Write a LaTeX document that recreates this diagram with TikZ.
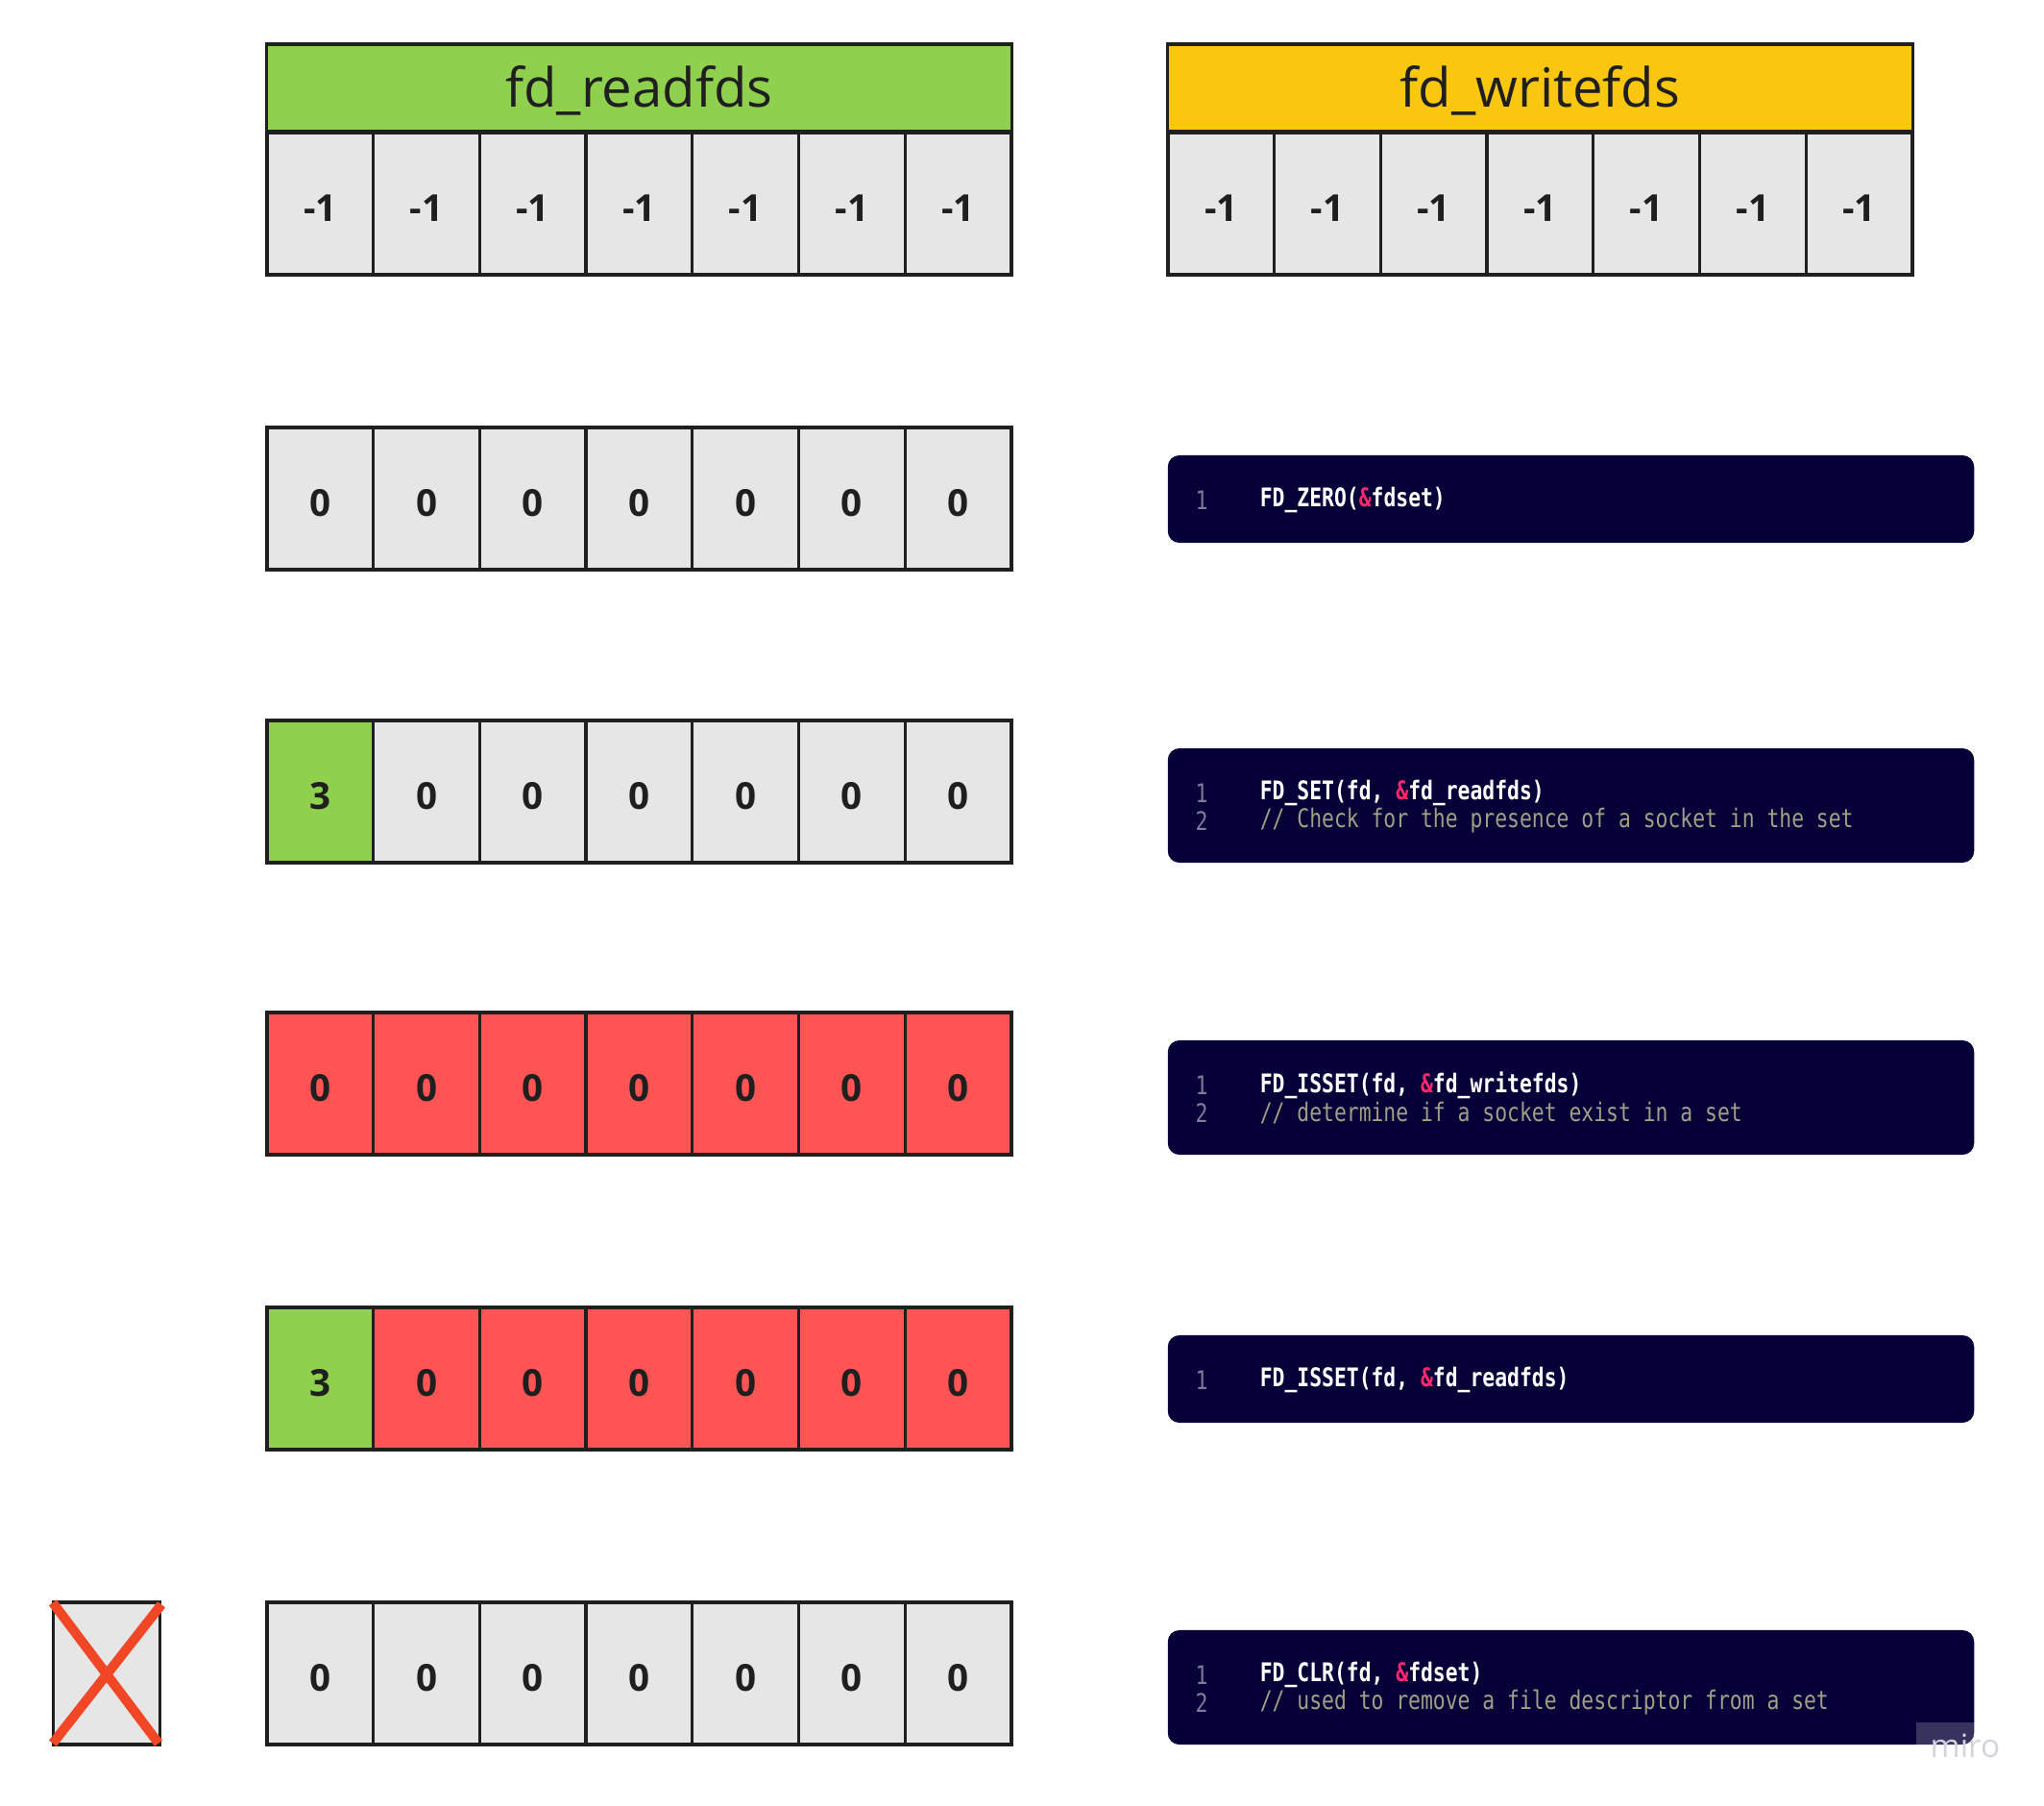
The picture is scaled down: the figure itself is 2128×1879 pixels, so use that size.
\documentclass[tikz,border=0pt]{standalone}
\usepackage{fontspec}
\setmainfont{Open Sans}
\newfontfamily\codefont[FakeStretch=0.8]{DejaVu Sans Mono}
\usepackage{tikz}
\usetikzlibrary{positioning}
\usetikzlibrary{calc}

\definecolor{cellgray}{HTML}{E6E6E6}
\definecolor{cellline}{HTML}{1F1F1F}
\definecolor{setgreen}{HTML}{8FD14F}
\definecolor{setyellow}{HTML}{FAC710}
\definecolor{setred}{HTML}{FF5454}
\definecolor{codebg}{HTML}{050038}
\definecolor{codepink}{HTML}{FF2A6D}
\definecolor{codecomment}{HTML}{A39E86}
\definecolor{codenum}{HTML}{7E7C99}
\definecolor{crossred}{HTML}{F24726}
\definecolor{miromark}{HTML}{D3D3DE}

\newcommand{\pamp}{\textcolor{codepink}{\&}}

\begin{document}
\begin{tikzpicture}[x=0.01cm, y=-0.01cm,
  cell/.style={draw=cellline, line width=0.95pt, fill=cellgray, minimum width=1.107cm,
    minimum height=1.48cm, inner sep=0pt, text height=10.6pt, text depth=0pt,
    text=cellline, font=\fontsize{11}{13}\selectfont\bfseries},
  head/.style={draw=cellline, line width=0.95pt, minimum width=7.75cm, minimum height=0.91cm,
    inner sep=0pt, text height=14.6pt, text depth=3.5pt, text=cellline, font=\fontsize{16}{19}\selectfont},
  codebox/.style={fill=codebg, rounded corners=0.12cm, minimum width=8.39cm, inner sep=0pt},
  lineno/.style={text=codenum, inner sep=0pt, font=\codefont\fontsize{7.6}{9}\selectfont},
  codeline/.style={anchor=west, text=white, inner sep=0pt, font=\codefont\fontsize{7.6}{9}\selectfont\bfseries},
  comment/.style={anchor=west, text=codecomment, inner sep=0pt, font=\codefont\fontsize{7.6}{9}\selectfont}]

  \useasboundingbox (0,0) rectangle (2128,1879);

  % the two sets
  \node[head, fill=setgreen] (readhead) at (665.5,91.5) {fd\_readfds};
  \node[head, fill=setyellow] (writehead) at (1603.5,91.5) {fd\_writefds};
  \foreach \i in {1,...,7} {
    \node[cell] (rd\i) at ({278+110.7*(\i-0.5)},212) {-1};
    \node[cell] (wr\i) at ({1216+110.7*(\i-0.5)},212) {-1};
  }

  % rows below
  \foreach \r/\ty/\a/\fa/\fb in {2/445/0/cellgray/cellgray, 3/750/3/setgreen/cellgray,
      4/1054/0/setred/setred, 5/1361/3/setgreen/setred, 6/1668/0/cellgray/cellgray} {
    \node[cell, fill=\fa] (r\r c1) at (333.4,\ty+74) {\a};
    \foreach \i in {2,...,7}
      \node[cell, fill=\fb] (r\r c\i) at ({278+110.7*(\i-0.5)},\ty+74) {0};
  }

  % removed descriptor
  \node[cell] (gone) at (111,1742) {};
  \draw[crossred, line width=2.85pt] ($(gone.north west)+(1,2)$) -- ($(gone.south east)+(-3,-3)$);
  \draw[crossred, line width=2.85pt] ($(gone.north east)+(0,4)$) -- ($(gone.south west)+(1,-3)$);

  % code
  \node[codebox, minimum height=0.91cm] (zero) at (1635.5,519.5) {};
  \node[codebox, minimum height=1.19cm] (set) at (1635.5,838.5) {};
  \node[codebox, minimum height=1.19cm] (isw) at (1635.5,1142.5) {};
  \node[codebox, minimum height=0.91cm] (isr) at (1635.5,1435.5) {};
  \node[codebox, minimum height=1.19cm] (clr) at (1635.5,1756.5) {};

  \node[lineno] (zero-n1) at ($(zero.west)+(36,1)$) {1};
  \node[codeline] (zero-l1) at ($(zero.west)+(96,1)$) {FD\_ZERO(\pamp fdset)};

  \node[lineno] (set-n1) at ($(set.west)+(36,-13)$) {1};
  \node[codeline] (set-l1) at ($(set.west)+(96,-13)$) {FD\_SET(fd, \pamp fd\_readfds)};
  \node[lineno] (set-n2) at ($(set.west)+(36,16)$) {2};
  \node[comment] (set-l2) at ($(set.west)+(96,16)$) {// Check for the presence of a socket in the set};

  \node[lineno] (isw-n1) at ($(isw.west)+(36,-13)$) {1};
  \node[codeline] (isw-l1) at ($(isw.west)+(96,-13)$) {FD\_ISSET(fd, \pamp fd\_writefds)};
  \node[lineno] (isw-n2) at ($(isw.west)+(36,16)$) {2};
  \node[comment] (isw-l2) at ($(isw.west)+(96,16)$) {// determine if a socket exist in a set};

  \node[lineno] (isr-n1) at ($(isr.west)+(36,1)$) {1};
  \node[codeline] (isr-l1) at ($(isr.west)+(96,1)$) {FD\_ISSET(fd, \pamp fd\_readfds)};

  \node[lineno] (clr-n1) at ($(clr.west)+(36,-13)$) {1};
  \node[codeline] (clr-l1) at ($(clr.west)+(96,-13)$) {FD\_CLR(fd, \pamp fdset)};
  \node[lineno] (clr-n2) at ($(clr.west)+(36,16)$) {2};
  \node[comment] (clr-l2) at ($(clr.west)+(96,16)$) {// used to remove a file descriptor from a set};

  % watermark
  \fill[white, opacity=0.2] (1995,1793) rectangle (clr.south east);
  \node[text=miromark, inner sep=0pt, font=\fontsize{9.5}{11}\selectfont] (miro) at (2046,1817) {miro};
\end{tikzpicture}
\end{document}
